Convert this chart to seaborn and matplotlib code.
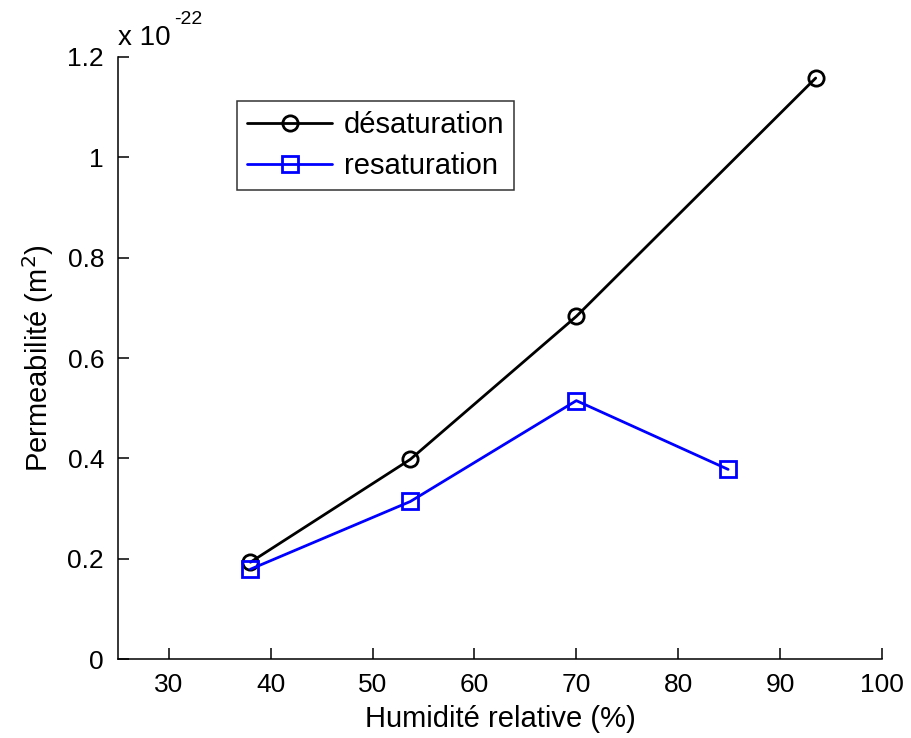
import matplotlib
matplotlib.use("Agg")
import matplotlib.pyplot as plt
import pandas as pd
import seaborn as sns

# valeurs (perméabilité en unités de 1e-22 m2)
humidite_desat = [38, 53.7, 70, 93.5]
perm_desat = [0.193, 0.398, 0.683, 1.158]
humidite_resat = [38, 53.7, 70, 84.9]
perm_resat = [0.179, 0.314, 0.515, 0.378]
series_labels = ["désaturation", "resaturation"]
x_ticks = [30, 40, 50, 60, 70, 80, 90, 100]
y_ticks = [0, 0.2, 0.4, 0.6, 0.8, 1, 1.2]
y_tick_labels = ["0", "0.2", "0.4", "0.6", "0.8", "1", "1.2"]

df = pd.concat([
    pd.DataFrame({"hr": humidite_desat, "k": perm_desat, "serie": series_labels[0]}),
    pd.DataFrame({"hr": humidite_resat, "k": perm_resat, "serie": series_labels[1]}),
])

sns.set_style("ticks")
plt.rcParams["font.family"] = ["Liberation Sans", "DejaVu Sans"]
plt.rcParams["text.color"] = "black"
plt.rcParams["axes.labelcolor"] = "black"
plt.rcParams["xtick.color"] = "black"
plt.rcParams["ytick.color"] = "black"
plt.rcParams["axes.edgecolor"] = "black"

fig = plt.figure(figsize=(9.12, 7.38), dpi=100)
ax = fig.add_axes([0.1294, 0.107, 0.8376, 0.8158])

sns.lineplot(
    data=df, x="hr", y="k", hue="serie", style="serie",
    palette={series_labels[0]: "black", series_labels[1]: "#0000ff"},
    markers={series_labels[0]: "o", series_labels[1]: "s"},
    dashes=False, linewidth=2, markersize=11, markerfacecolor="none",
    markeredgewidth=2, ax=ax, sort=False,
)
for line in ax.lines:
    line.set_markerfacecolor("none")
    line.set_markeredgecolor(line.get_color())

ax.set_xlim(25, 100)
ax.set_ylim(0, 1.2)
ax.set_xticks(x_ticks)
ax.set_xticklabels([str(t) for t in x_ticks])
ax.set_yticks(y_ticks)
ax.set_yticklabels(y_tick_labels)
ax.tick_params(direction="in", length=8, width=1.1, labelsize=19, pad=10)
for s in ["left", "bottom"]:
    ax.spines[s].set_linewidth(1.1)
sns.despine(ax=ax)

ax.set_xlabel("Humidité relative (%)", fontsize=21, labelpad=6)
ax.set_ylabel("Permeabilité (m$^2$)", fontsize=21, labelpad=8)
# facteur d'échelle façon MATLAB
ax.text(0.0, 1.02, "x 10", transform=ax.transAxes, fontsize=20,
        ha="left", va="baseline")
ax.text(0.073, 1.055, "-22", transform=ax.transAxes, fontsize=14,
        ha="left", va="baseline")

leg = ax.legend(loc="upper left", bbox_to_anchor=(0.156, 0.927), fontsize=21,
                frameon=True, fancybox=False, edgecolor="black",
                handlelength=2.9, handletextpad=0.4, borderpad=0.35,
                labelspacing=0.45, borderaxespad=0)
leg.get_frame().set_linewidth(1.1)
for h in leg.get_lines():
    h.set_markerfacecolor("none")
    h.set_markeredgecolor(h.get_color())

fig.savefig("out.png", dpi=100)
